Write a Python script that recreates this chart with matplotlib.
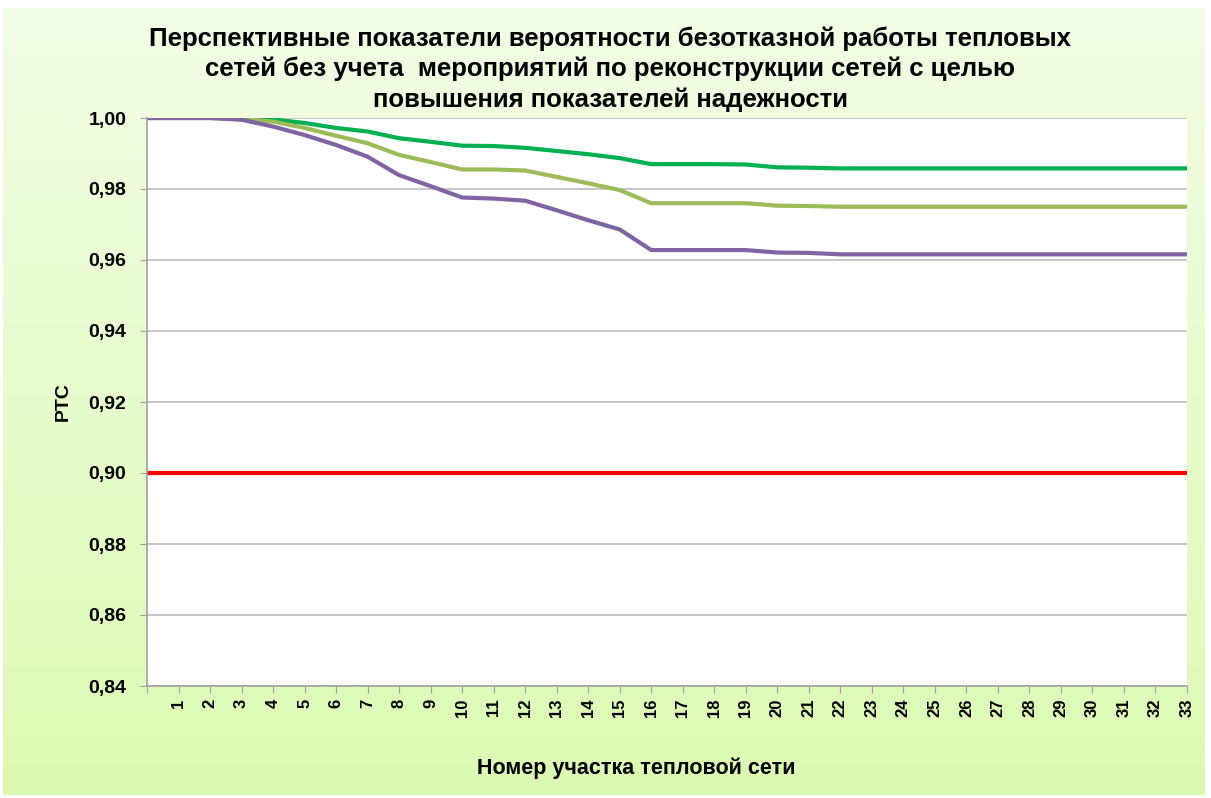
import numpy as np
import matplotlib
matplotlib.use("Agg")
import matplotlib.pyplot as plt
from matplotlib.ticker import FuncFormatter

# section numbers (position 0 is the unlabeled start point)
sections = list(range(0, 34))
tick_labels = [""] + [str(i) for i in range(1, 34)]

# PTC values
ptc_green = [1.0, 1.0, 1.0, 0.9999, 0.9996, 0.9986, 0.9972, 0.9962, 0.9943, 0.9933,
             0.9922, 0.9921, 0.9916, 0.9907, 0.9898, 0.9887, 0.9870, 0.9870, 0.9870,
             0.9869, 0.9861, 0.9860, 0.9858, 0.9858, 0.9858, 0.9858, 0.9858, 0.9858,
             0.9858, 0.9858, 0.9858, 0.9858, 0.9858, 0.9858]
ptc_olive = [1.0, 1.0, 1.0, 0.9998, 0.9990, 0.9972, 0.9950, 0.9929, 0.9896, 0.9876,
             0.9855, 0.9855, 0.9852, 0.9834, 0.9816, 0.9797, 0.9760, 0.9760, 0.9760,
             0.9760, 0.9753, 0.9752, 0.9750, 0.9750, 0.9750, 0.9750, 0.9750, 0.9750,
             0.9750, 0.9750, 0.9750, 0.9750, 0.9750, 0.9750]
ptc_purple = [1.0, 1.0, 1.0, 0.9995, 0.9976, 0.9952, 0.9924, 0.9891, 0.9839, 0.9808,
              0.9776, 0.9773, 0.9767, 0.9740, 0.9712, 0.9686, 0.9628, 0.9628, 0.9628,
              0.9628, 0.9621, 0.9620, 0.9616, 0.9616, 0.9616, 0.9616, 0.9616, 0.9616,
              0.9616, 0.9616, 0.9616, 0.9616, 0.9616, 0.9616]
ptc_norm = [0.90] * 34

title = ("Перспективные показатели вероятности безотказной работы тепловых\n"
         "сетей без учета  мероприятий по реконструкции сетей с целью\n"
         "повышения показателей надежности")

plt.rcParams['font.family'] = ['Liberation Sans', 'DejaVu Sans']
plt.rcParams['font.weight'] = 'bold'

fig = plt.figure(figsize=(12.11, 7.98), dpi=100)

# light green gradient background
bg = fig.add_axes([0, 0, 1, 1], zorder=-10)
grad = np.linspace(0, 1, 256).reshape(-1, 1)
top = np.array([0.95, 0.99, 0.90])
bot = np.array([0.86, 0.98, 0.70])
img = top + (bot - top) * grad[:, :, None]
bg.imshow(img, aspect='auto', extent=[3 / 1211, 1205 / 1211, 3 / 798, 790 / 798])
bg.set_xlim(0, 1)
bg.set_ylim(0, 1)
bg.axis('off')

ax = fig.add_axes([147 / 1211, 1 - 686 / 798, 1040 / 1211, 568 / 798])
ax.set_facecolor('white')

ax.plot(sections, ptc_norm, color='#FF0000', lw=3, solid_capstyle='butt')
ax.plot(sections, ptc_green, color='#00B050', lw=3, solid_capstyle='butt')
ax.plot(sections, ptc_olive, color='#9BBB59', lw=3, solid_capstyle='butt')
ax.plot(sections, ptc_purple, color='#8064A2', lw=3, solid_capstyle='butt')

ax.set_xlim(0, 33)
ax.set_ylim(0.84, 1.0)
ax.set_yticks(np.arange(0.84, 1.001, 0.02))
ax.yaxis.set_major_formatter(FuncFormatter(lambda v, p: f"{v:.2f}".replace('.', ',')))
ax.set_xticks(sections)
ax.set_xticklabels(tick_labels, rotation=90, fontsize=12, fontweight='bold')
ax.tick_params(axis='y', labelsize=14, length=5, color='#A0A0A0', pad=10)
ax.tick_params(axis='x', length=5, color='#A0A0A0', pad=4)
ax.grid(axis='y', color='#BEBEBE', lw=1.2)
ax.set_axisbelow(True)
for s in ['top', 'right']:
    ax.spines[s].set_visible(False)
for s in ['left', 'bottom']:
    ax.spines[s].set_color('#A0A0A0')
    ax.spines[s].set_linewidth(1.2)

ax.set_ylabel('PTC', fontsize=14, fontweight='bold', labelpad=12)
fig.text(636 / 1211, 1 - 768 / 798, 'Номер участка тепловой сети', ha='center',
         va='center', fontsize=15.5, fontweight='bold')
fig.text(610 / 1211, 1 - 69 / 798, title, ha='center', va='center', fontsize=18.5,
         fontweight='bold', linespacing=1.3)

fig.savefig('out.png', dpi=100)
